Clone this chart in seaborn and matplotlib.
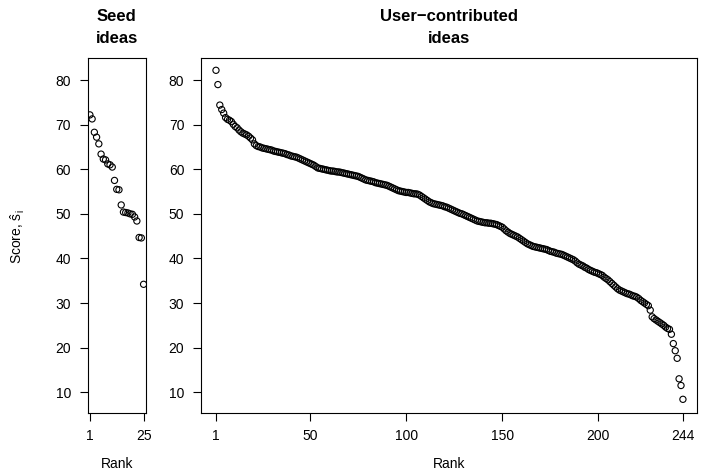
import pandas as pd
import matplotlib
matplotlib.use("Agg")
import matplotlib.pyplot as plt
import seaborn as sns

# Scores of the 25 seed ideas, sorted high to low
seed_scores = [72.2, 71.3, 68.3, 67.2, 65.7, 63.4, 62.3, 62.1, 61.2, 61.0,
               60.5, 57.5, 55.5, 55.4, 52.0, 50.4, 50.3, 50.2, 50.0, 49.9,
               49.3, 48.4, 44.7, 44.6, 34.2]

# Scores of the 244 user-contributed ideas, sorted high to low
user_scores = [
    82.2, 79.0, 74.4, 73.4, 72.6, 71.6, 71.2, 71.0, 70.7, 70.1,
    69.6, 69.3, 68.8, 68.4, 68.1, 67.9, 67.7, 67.4, 67.0, 66.6,
    65.7, 65.3, 65.1, 65.0, 64.8, 64.7, 64.6, 64.5, 64.4, 64.3,
    64.1, 64.0, 63.9, 63.8, 63.7, 63.6, 63.5, 63.3, 63.2, 63.0,
    62.9, 62.8, 62.7, 62.5, 62.3, 62.1, 61.9, 61.7, 61.5, 61.3,
    61.1, 60.9, 60.6, 60.3, 60.2, 60.1, 60.0, 59.9, 59.8, 59.7,
    59.6, 59.6, 59.5, 59.4, 59.4, 59.3, 59.2, 59.1, 59.0, 58.9,
    58.8, 58.7, 58.6, 58.5, 58.4, 58.2, 58.0, 57.8, 57.6, 57.5,
    57.4, 57.3, 57.2, 57.0, 56.9, 56.8, 56.7, 56.6, 56.5, 56.4,
    56.2, 56.0, 55.8, 55.6, 55.4, 55.2, 55.1, 55.0, 54.9, 54.8,
    54.8, 54.7, 54.6, 54.5, 54.5, 54.4, 54.2, 53.9, 53.6, 53.3,
    53.0, 52.7, 52.5, 52.3, 52.2, 52.1, 52.0, 51.9, 51.8, 51.6,
    51.5, 51.3, 51.1, 50.9, 50.7, 50.5, 50.3, 50.1, 50.0, 49.8,
    49.6, 49.4, 49.2, 49.0, 48.8, 48.6, 48.4, 48.3, 48.2, 48.1,
    48.0, 48.0, 47.9, 47.9, 47.8, 47.7, 47.6, 47.4, 47.2, 47.0,
    46.6, 46.2, 45.9, 45.6, 45.4, 45.2, 45.0, 44.8, 44.5, 44.2,
    43.9, 43.6, 43.3, 43.1, 42.9, 42.7, 42.6, 42.5, 42.4, 42.3,
    42.2, 42.1, 42.0, 41.8, 41.6, 41.5, 41.4, 41.2, 41.1, 41.0,
    40.9, 40.7, 40.5, 40.3, 40.1, 39.9, 39.7, 39.4, 39.0, 38.7,
    38.5, 38.3, 38.0, 37.8, 37.5, 37.3, 37.1, 36.9, 36.8, 36.6,
    36.4, 36.2, 35.8, 35.5, 35.2, 34.8, 34.4, 34.0, 33.6, 33.2,
    32.9, 32.7, 32.5, 32.3, 32.1, 32.0, 31.8, 31.6, 31.5, 31.3,
    31.0, 30.6, 30.3, 30.0, 29.7, 29.4, 28.4, 26.9, 26.5, 26.2,
    25.9, 25.6, 25.3, 25.0, 24.6, 24.3, 24.1, 23.0, 20.9, 19.3,
    17.6, 13.0, 11.5, 8.4,
]

seed_xticks = [1, 25]
user_xticks = [1, 50, 100, 150, 200, 244]
y_ticks = [10, 20, 30, 40, 50, 60, 70, 80]

sns.set_style("ticks")
plt.rcParams['font.family'] = ['Liberation Sans', 'DejaVu Sans']
plt.rcParams['font.size'] = 10
plt.rcParams['mathtext.fontset'] = 'custom'
plt.rcParams['mathtext.rm'] = 'Liberation Sans'
plt.rcParams['mathtext.it'] = 'Liberation Sans'
plt.rcParams['text.color'] = 'black'
plt.rcParams['axes.labelcolor'] = 'black'

seed_df = pd.DataFrame({"Rank": range(1, len(seed_scores) + 1), "Score": seed_scores})
user_df = pd.DataFrame({"Rank": range(1, len(user_scores) + 1), "Score": user_scores})

fig = plt.figure(figsize=(7.03, 4.73), dpi=100)
ax_seed = fig.add_axes([0.1248, 0.1275, 0.0825, 0.7493])
ax_user = fig.add_axes([0.2859, 0.1275, 0.7055, 0.7493])

panels = [
    (ax_seed, seed_df, seed_xticks, (0.04, 25.96), "Seed\nideas"),
    (ax_user, user_df, user_xticks, (-6.8, 251.3), "User\u2212contributed\nideas"),
]

for ax, df, xticks, xlim, title in panels:
    sns.scatterplot(data=df, x="Rank", y="Score", ax=ax, marker="o",
                    facecolors="none", edgecolor="black", linewidth=0.8, s=20)
    ax.set_xlim(*xlim)
    ax.set_ylim(5.4, 84.9)
    ax.set_xticks(xticks)
    ax.set_yticks(y_ticks)
    ax.set_xlabel("Rank", fontsize=10, labelpad=10, color="black")
    ax.set_ylabel("")
    ax.set_title(title, fontsize=12, fontweight="bold", pad=11,
                 linespacing=1.55, color="black")
    ax.tick_params(axis="both", direction="out", length=6, width=0.8,
                   labelsize=10, colors="black", labelcolor="black", pad=6)
    for spine in ax.spines.values():
        spine.set_visible(True)
        spine.set_linewidth(0.8)
        spine.set_color("black")

fig.text(0.026, 0.50, r"Score, $\hat{\mathrm{s}}_{\mathrm{i}}$", rotation=90,
         ha="center", va="center", fontsize=10, color="black")

fig.savefig("out.png", dpi=100)
